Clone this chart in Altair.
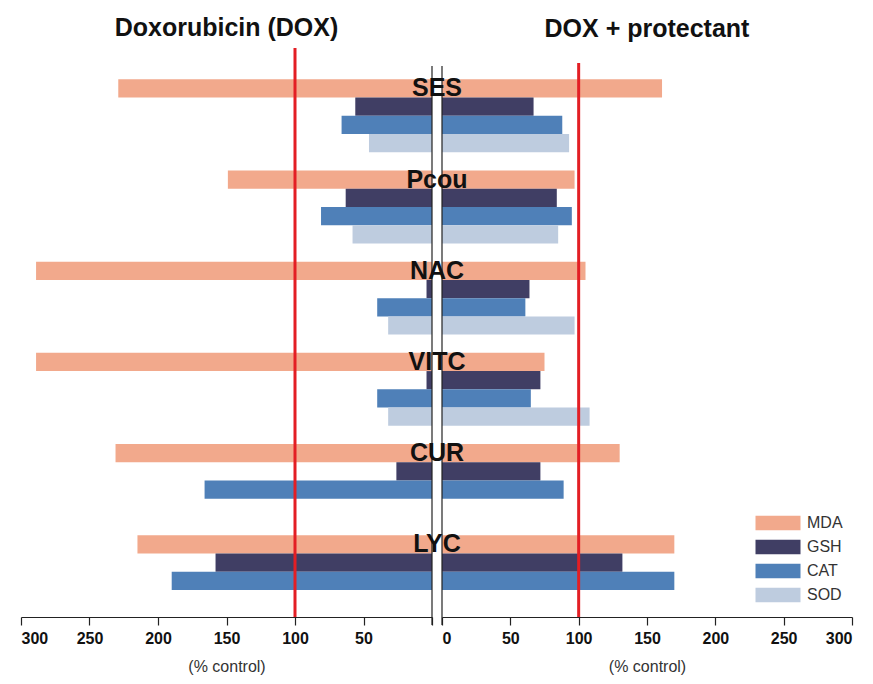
import altair as alt
import pandas as pd

categories = ["SES", "Pcou", "NAC", "VITC", "CUR", "LYC"]
series_order = ["MDA", "GSH", "CAT", "SOD"]
series_colors = ["#F2A98C", "#403E64", "#4F80B8", "#BECCDF"]

dox_MDA = [229, 149, 289, 289, 231, 215]
dox_GSH = [56, 63, 4, 4, 26, 158]
dox_CAT = [66, 81, 40, 40, 166, 190]
dox_SOD = [46, 58, 32, 32, None, None]

prot_MDA = [161, 97, 105, 75, 130, 170]
prot_GSH = [67, 84, 64, 72, 72, 132]
prot_CAT = [88, 95, 61, 65, 89, 170]
prot_SOD = [93, 85, 97, 108, None, None]

tick_values = [0, 50, 100, 150, 200, 250, 300]
control_level = 100


def frame(mda, gsh, cat, sod):
    rows = []
    for s, vals in zip(series_order, [mda, gsh, cat, sod]):
        for c, v in zip(categories, vals):
            if v is not None:
                rows.append({"cat": c, "series": s, "value": v})
    return pd.DataFrame(rows)


dox_df = frame(dox_MDA, dox_GSH, dox_CAT, dox_SOD)
prot_df = frame(prot_MDA, prot_GSH, prot_CAT, prot_SOD)
label_df = pd.DataFrame({"cat": categories, "series": ["MDA"] * len(categories)})

H = 569
SANS = "Liberation Sans, Arial, DejaVu Sans"

y_enc = alt.Y("cat:N", sort=categories, axis=None,
              scale=alt.Scale(domain=categories, paddingInner=0.2, paddingOuter=0.22, align=0.78))
yoff_enc = alt.YOffset("series:N", sort=series_order,
                       scale=alt.Scale(domain=series_order, paddingInner=0, paddingOuter=0))
legend = alt.Legend(orient="none", legendX=749, legendY=467, title=None,
                    symbolType="M-3,-0.96L3,-0.96L3,0.96L-3,0.96Z", symbolSize=225,
                    symbolStrokeWidth=0, symbolOpacity=1, rowPadding=8, labelFontSize=16,
                    labelFont=SANS, labelColor="#333333", labelOffset=21)
color_enc = alt.Color("series:N", sort=series_order,
                      scale=alt.Scale(domain=series_order, range=series_colors), legend=legend)


def panel(df, reverse, title, red_top, with_labels):
    axis = alt.Axis(values=tick_values, title="(% control)", grid=False,
                    labelExpr="datum.value == 0 && " + ("true" if reverse else "false") + " ? '' : datum.label")
    x_scale = alt.Scale(domain=[0, 300], reverse=reverse, nice=False, zero=True)
    bars = alt.Chart(df).mark_bar(opacity=1).encode(
        x=alt.X("value:Q", scale=x_scale, axis=axis),
        y=y_enc, yOffset=yoff_enc, color=color_enc,
    )
    black = alt.Chart(pd.DataFrame({"v": [0]})).mark_rule(color="#222222", strokeWidth=1.2).encode(
        x=alt.X("v:Q", scale=x_scale), y=alt.value(18), y2=alt.value(H + 8))
    red = alt.Chart(pd.DataFrame({"v": [control_level]})).mark_rule(color="#E31E24", strokeWidth=3).encode(
        x=alt.X("v:Q", scale=x_scale), y=alt.value(red_top), y2=alt.value(H))
    layers = [bars, black, red]
    if with_labels:
        txt = alt.Chart(label_df).mark_text(fontSize=25, fontWeight="bold", font=SANS,
                                            color="#111111", align="center", baseline="middle", dy=0).encode(
            x=alt.value(-5), y=y_enc, yOffset=yoff_enc, text="cat:N")
        layers.append(txt)
    return alt.layer(*layers).properties(
        width=411 if reverse else 410, height=H,
        title=alt.TitleParams(title, fontSize=25, fontWeight="bold", font=SANS,
                              anchor="middle", offset=6, color="#111111"),
    )


left = panel(dox_df, True, "Doxorubicin (DOX)", 0, False)
right = panel(prot_df, False, "DOX + protectant", 15, True)

chart = alt.hconcat(left, right, spacing=10, bounds="flush").resolve_scale(x="independent").properties(
    padding={"left": 12, "right": 5, "top": 7, "bottom": 2}
).configure_view(stroke=None).configure_axis(
    domainColor="#222222", tickColor="#222222", tickSize=8, domainWidth=1.2, tickWidth=1.2,
    labelFont=SANS, labelFontSize=16, labelFontWeight="bold", labelColor="#111111", labelPadding=5,
    titleFont=SANS, titleFontSize=16, titleFontWeight="normal", titleColor="#333333", titlePadding=12,
)

chart.save("out.html", embed_options={"renderer": "svg", "actions": False})
